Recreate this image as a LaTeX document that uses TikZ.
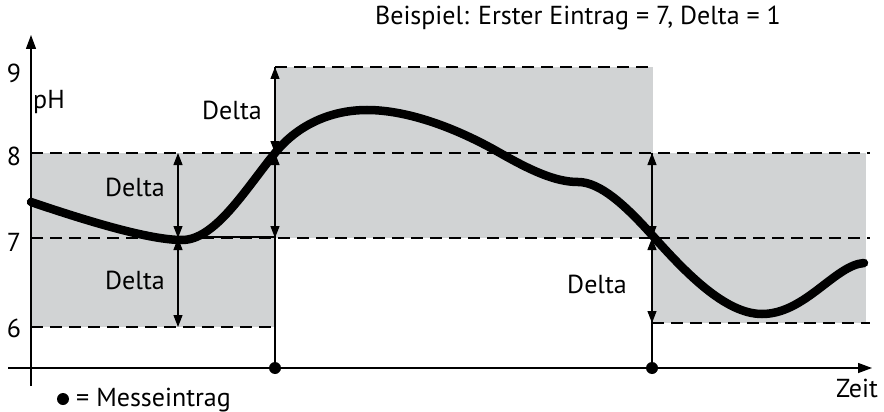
\documentclass[tikz,border=0pt]{standalone}
\usepackage{fontspec}
\setmainfont{PT Sans}
\usetikzlibrary{arrows.meta}
\definecolor{boxgray}{RGB}{209,211,212}
\tikzset{
  lbl/.style={font=\fontsize{26}{30}\selectfont, inner sep=0pt},
  dashline/.style={dash pattern=on 12pt off 7pt, line width=1.1pt},
  darrow/.style={{Triangle[length=12pt,width=9pt]}-{Triangle[length=12pt,width=9pt]}, line width=1.1pt},
  axis/.style={line width=1.3pt},
  graybox/.style={fill=boxgray, draw=none},
  mdot/.style={circle, fill=black, inner sep=0pt, minimum size=12pt},
}
\begin{document}
\begin{tikzpicture}[x=1pt,y=-1pt]
\useasboundingbox (0,0) rectangle (884,412);
% gray boxes
\fill[graybox] (31,153) rectangle (275,327);
\fill[graybox] (275,67) rectangle (653,238);
\fill[graybox] (652,153) rectangle (866,323);
% dashed lines
\draw[dashline] (275,67) -- (653,67);
\draw[dashline] (31,153) -- (870,153);
\draw[dashline] (31,238) -- (870,238);
\draw[dashline] (31,327) -- (275,327);
\draw[dashline] (652,323) -- (870,323);
% axes
\coordinate (yb) at (31,386);
\coordinate (yt) at (31,35);
\coordinate (xl) at (8,368);
\coordinate (xr) at (872,368);
\draw[axis, -{Triangle[length=14pt,width=10pt]}] (yb) -- (yt);
\draw[axis, -{Triangle[length=14pt,width=10pt]}] (xl) -- (xr);
% measurement entries
\node[mdot] (m1) at (275,368) {};
\node[mdot] (m2) at (652,368) {};
\coordinate (t1) at (275,67);
\coordinate (t2) at (652,153);
\draw[line width=1.2pt] (m1.center) -- (t1);
\draw[line width=1.2pt] (m2.center) -- (t2);
\coordinate (s0) at (180,237);
\coordinate (s1) at (275,237);
\draw[line width=1.2pt] (s0) -- (s1);
% curve
\coordinate (p0) at (31,202);
\coordinate (p1) at (182,240);
\coordinate (p2) at (275,153);
\coordinate (p3) at (367,110);
\coordinate (p4) at (500,153);
\coordinate (p5) at (578,182);
\coordinate (p6) at (652,235);
\coordinate (p7) at (762,314);
\coordinate (p8) at (864,263);
\draw[line width=8.5pt, line cap=round]
 (p0) .. controls (90,222) and (150,240) .. (p1)
      .. controls (215,240) and (245,190) .. (p2)
      .. controls (300,122) and (335,110) .. (p3)
      .. controls (410,110) and (460,130) .. (p4)
      .. controls (530,170) and (555,182) .. (p5)
      .. controls (600,182) and (625,205) .. (p6)
      .. controls (685,272) and (725,314) .. (p7)
      .. controls (805,314) and (835,265) .. (p8);
% delta arrows
\coordinate (a1) at (178,153); \coordinate (a2) at (178,238); \coordinate (a3) at (178,327);
\draw[darrow] (a1) -- (a2);
\draw[darrow] (a2) -- (a3);
\coordinate (b1) at (275,67); \coordinate (b2) at (275,153); \coordinate (b3) at (275,238);
\draw[darrow] (b1) -- (b2);
\draw[darrow] (b2) -- (b3);
\coordinate (c1) at (652,153); \coordinate (c2) at (652,238); \coordinate (c3) at (652,323);
\draw[darrow] (c1) -- (c2);
\draw[darrow] (c2) -- (c3);
% labels
\node[lbl] (d1) at (135,187) {Delta};
\node[lbl] (d2) at (135,280) {Delta};
\node[lbl] (d3) at (232,110) {Delta};
\node[lbl] (d4) at (597,284) {Delta};
\node[lbl] (l9) at (14,73) {9};
\node[lbl] (l8) at (14,156) {8};
\node[lbl] (l7) at (14,242) {7};
\node[lbl] (l6) at (14,328) {6};
\node[lbl, anchor=west] (ph) at (33,102) {pH};
\node[lbl] (zeit) at (857,388) {Zeit};
\node[mdot] (legdot) at (63,399) {};
\node[lbl, anchor=west] (leg) at (76,400) {= Messeintrag};
\node[lbl] (title) at (578,18) {Beispiel: Erster Eintrag = 7, Delta = 1};
\end{tikzpicture}
\end{document}
